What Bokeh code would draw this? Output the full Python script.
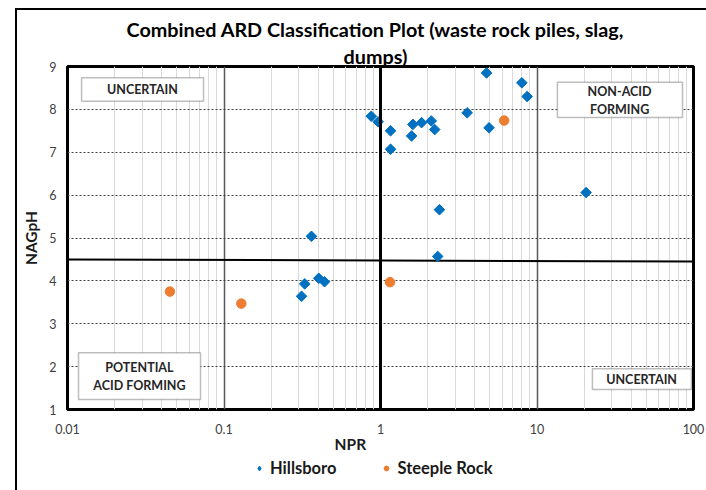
import numpy as np
from bokeh.plotting import figure
from bokeh.layouts import column
from bokeh.models import (FixedTicker, NumeralTickFormatter, Span, BoxAnnotation,
                          Label, Legend, LegendItem, Title, InlineStyleSheet)
from bokeh.embed import file_html
from bokeh.resources import INLINE

# ---- data ----
hills_npr = [4.76, 8.0, 8.65, 0.873, 0.966, 1.16, 1.16, 1.61, 1.83, 2.11, 2.22, 1.58,
             3.58, 4.94, 20.6, 2.38, 2.32, 0.362, 0.313, 0.328, 0.403, 0.439]
hills_nag = [8.85, 8.62, 8.30, 7.84, 7.71, 7.50, 7.07, 7.65, 7.69, 7.73, 7.53, 7.38,
             7.92, 7.57, 6.06, 5.66, 4.57, 5.04, 3.64, 3.93, 4.06, 3.98]
steeple_npr = [6.17, 0.0451, 0.129, 1.15]
steeple_nag = [7.74, 3.75, 3.47, 3.97]

series_names = ["Hillsboro", "Steeple Rock"]
x_ticks = [0.01, 0.1, 1, 10, 100]
y_ticks = [1, 2, 3, 4, 5, 6, 7, 8, 9]
npr_divider = 1
nag_div_x = [0.01, 100]
nag_div_y = [4.5, 4.45]

FONT = "Lato"
BLUE = "#0070C0"
ORANGE = "#ED7D31"

border_top_part = InlineStyleSheet(css="""
:host::after { content: ''; position: absolute; left: 15px; top: 8px; right: 0px; bottom: 0px;
  border-left: 2px solid #000; border-top: 2px solid #000; pointer-events: none; }
""")
border_bottom_part = InlineStyleSheet(css="""
:host::after { content: ''; position: absolute; left: 15px; top: 0px; bottom: 0px; width: 0px;
  border-left: 2px solid #000; pointer-events: none; }
""")

p = figure(width=706, height=455, x_axis_type="log", x_range=(0.01, 100), y_range=(1, 9),
           output_backend="svg", toolbar_location=None,
           min_border_left=67, min_border_right=13, min_border_top=66, min_border_bottom=44,
           stylesheets=[border_top_part])

# titles
p.title.text = "Combined ARD Classification Plot (waste rock piles, slag,"
p.title.text_font = FONT
p.title.text_font_size = "19.8px"
p.title.text_color = "black"
p.title.align = "left"
p.title.standoff = 4
p.title.offset = 59
p.add_layout(Title(text="dumps)", text_font=FONT, text_font_size="19.8px", align="left",
                   text_color="black", standoff=-2, offset=276), "above")

p.outline_line_color = "black"
p.outline_line_width = 3

minor = [m * d for d in [0.01, 0.1, 1, 10] for m in range(2, 10)]
p.xaxis.ticker = FixedTicker(ticks=x_ticks, minor_ticks=minor)
p.xaxis.formatter = NumeralTickFormatter(format="0.[00]")
p.yaxis.ticker = FixedTicker(ticks=y_ticks)

for ax in (p.xaxis, p.yaxis):
    ax.axis_line_color = None
    ax.major_tick_line_color = None
    ax.minor_tick_line_color = None
    ax.major_tick_out = 0
    ax.minor_tick_out = 0
    ax.major_label_text_font = FONT
    ax.major_label_text_font_size = "12.5px"
    ax.major_label_text_color = "#404040"
    ax.axis_label_text_font = FONT
    ax.axis_label_text_font_size = "15.5px"
    ax.axis_label_text_font_style = "bold"
    ax.axis_label_text_color = "#1a1a1a"

p.xaxis.axis_label = "NPR" + "\u00a0" * 16
p.yaxis.axis_label = "NAGpH"
p.xaxis.major_label_standoff = 14
p.xaxis.axis_label_standoff = -2
p.yaxis.major_label_standoff = 11
p.yaxis.axis_label_standoff = 6

p.xgrid.grid_line_color = "#595959"
p.xgrid.grid_line_width = 1.5
p.xgrid.minor_grid_line_color = "#d9d9d9"
p.xgrid.minor_grid_line_width = 1
p.ygrid.grid_line_color = "#404040"
p.ygrid.grid_line_dash = "2 2"
p.ygrid.grid_line_width = 1

# dividers
p.add_layout(Span(location=npr_divider, dimension="height", line_color="black", line_width=3))
p.line(nag_div_x, nag_div_y, line_color="black", line_width=2)

# zone boxes
boxes = [
    (0.0123, 0.074, 8.74, 8.19, [("UNCERTAIN", 0.0301, 8.465)]),
    (13.5, 85.1, 8.63, 7.81, [("NON-ACID", 33.7, 8.42), ("FORMING", 33.7, 8.0)]),
    (0.01176, 0.0708, 2.326, 1.233, [("POTENTIAL", 0.0288, 1.977), ("ACID FORMING", 0.0288, 1.558)]),
    (22.6, 97.0, 1.953, 1.465, [("UNCERTAIN", 46.6, 1.70)]),
]
for l, r, t, b, texts in boxes:
    p.add_layout(BoxAnnotation(left=l, right=r, top=t, bottom=b, fill_color="white",
                               fill_alpha=1, line_color="#262626", line_width=1.5))
    for txt, tx, ty in texts:
        p.add_layout(Label(x=tx, y=ty, text=txt, text_align="center", text_baseline="middle",
                           text_font=FONT, text_font_size="12.5px", text_font_style="bold",
                           text_color="#262626"))

p.scatter(hills_npr, hills_nag, marker="square", angle=np.pi / 4, size=7.5,
          fill_color=BLUE, line_color=BLUE)
p.scatter(steeple_npr, steeple_nag, marker="circle", size=9.5,
          fill_color=ORANGE, line_color=ORANGE)

# legend strip
leg = figure(width=706, height=35, output_backend="svg", toolbar_location=None,
             x_axis_location=None, y_axis_location=None, x_range=(0, 1), y_range=(0, 1),
             min_border=0, outline_line_color=None, stylesheets=[border_bottom_part])
leg.grid.visible = False
lr1 = leg.scatter([-5], [-5], marker="diamond", size=12,
                  fill_color=BLUE, line_color=BLUE)
lr2 = leg.scatter([-5], [-5], marker="circle", size=10, fill_color=ORANGE, line_color=ORANGE)
legend = Legend(items=[LegendItem(label=series_names[0], renderers=[lr1]),
                       LegendItem(label=series_names[1], renderers=[lr2])],
                orientation="horizontal", location=(186, 12),
                label_text_font=FONT, label_text_font_size="16.5px", label_text_font_style="bold",
                label_text_color="#1a1a1a", label_height=20, glyph_height=20,
                border_line_color=None, background_fill_alpha=0, spacing=44,
                glyph_width=12, label_standoff=5, padding=0, margin=0)
leg.add_layout(legend, "center")

layout = column(p, leg)

open("out.html", "w").write(file_html(layout, INLINE))
